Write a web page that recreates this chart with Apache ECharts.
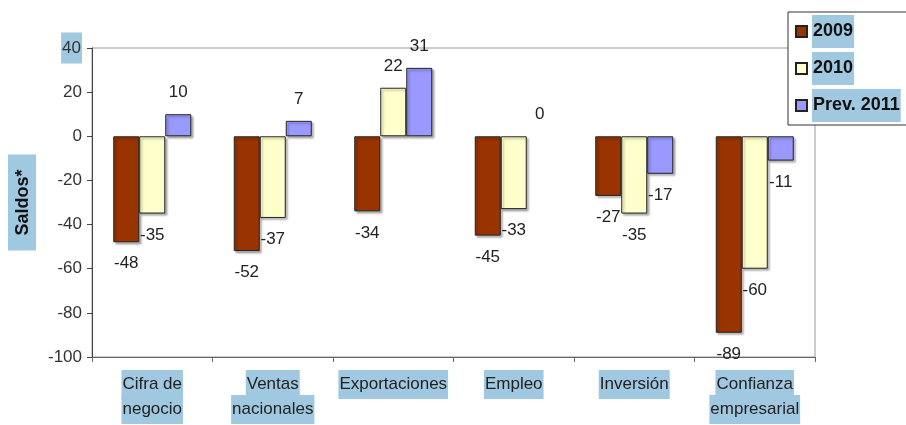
<!DOCTYPE html>
<html>
<head>
<meta charset="utf-8">
<script src="https://cdn.jsdelivr.net/npm/echarts@6/dist/echarts.min.js"></script>
<style>
  html, body { margin: 0; padding: 0; background: #fff; overflow: hidden; }
  #chart { width: 906px; height: 425px; }
</style>
</head>
<body>
<div id="chart"></div>
<script>
// Encuesta: saldos de respuestas por indicador
const categories = ['Cifra de\nnegocio', 'Ventas\nnacionales', 'Exportaciones', 'Empleo', 'Inversión', 'Confianza\nempresarial'];
const seriesNames = ['2009', '2010', 'Prev. 2011'];
const values2009 = [-48, -52, -34, -45, -27, -89];
const values2010 = [-35, -37, 22, -33, -35, -60];
const valuesPrev2011 = [10, 7, 31, 0, -17, -11];
const yTicks = { min: -100, max: 40, step: 20 };

const colors = ['#993300', '#FFFFCC', '#9999FF'];
const hl = '#a0c8e0';
const sans = "'Liberation Sans', Arial, sans-serif";

function barData(vals) {
  return vals.map(v => {
    const item = { value: v, label: { position: v < 0 ? 'bottom' : 'top' } };
    if (v === 0) item.itemStyle = { borderWidth: 0, shadowColor: 'transparent' };
    return item;
  });
}

function makeSeries(name, vals, color) {
  return {
    name: name,
    type: 'bar',
    xAxisIndex: 0,
    barWidth: 26,
    barGap: '0%',
    data: barData(vals),
    itemStyle: {
      color: color,
      borderColor: '#222',
      borderWidth: 1,
      shadowColor: 'rgba(0,0,0,0.3)',
      shadowOffsetX: 2,
      shadowOffsetY: 2,
      shadowBlur: 2
    },
    label: {
      show: true,
      distance: 13,
      fontFamily: sans,
      fontSize: 17,
      color: '#222'
    }
  };
}

const chart = echarts.init(document.getElementById('chart'), null, { renderer: 'canvas' });

chart.setOption({
  animation: false,
  backgroundColor: '#fff',
  grid: {
    left: 90, right: 91, top: 48, bottom: 68,
    show: true, borderColor: '#999', borderWidth: 1, backgroundColor: '#fff'
  },
  legend: {
    orient: 'vertical',
    left: 788, top: 12,
    padding: [3, 60, 3, 7],
    itemGap: 4,
    itemWidth: 11, itemHeight: 11,
    icon: 'rect',
    backgroundColor: '#fff',
    borderColor: '#333',
    borderWidth: 1,
    z: 10,
    data: seriesNames,
    textStyle: {
      fontFamily: sans,
      fontWeight: 'bold',
      fontSize: 18,
      color: '#111',
      backgroundColor: hl,
      lineHeight: 20,
      padding: [7, 1, 6, 1]
    }
  },
  xAxis: [
    {
      type: 'category',
      data: categories,
      position: 'bottom',
      axisLine: { show: false },
      axisTick: { show: false },
      axisLabel: {
        margin: 15,
        interval: 0,
        formatter: v => v.split('\n').map(s => '{c|' + s + '}').join('\n'),
        rich: {
          c: {
            fontFamily: sans,
            fontSize: 17,
            color: '#222',
            lineHeight: 25,
            backgroundColor: hl,
            padding: [6, 1, 6, 1]
          }
        }
      }
    },
    {
      type: 'category',
      data: categories,
      position: 'bottom',
      axisLine: { show: true, onZero: true, lineStyle: { color: '#666', width: 1 } },
      axisTick: { show: true, length: 5, lineStyle: { color: '#666' } },
      axisLabel: { show: false },
      splitLine: { show: false }
    }
  ],
  yAxis: {
    type: 'value',
    min: yTicks.min, max: yTicks.max, interval: yTicks.step,
    name: 'Saldos*',
    nameLocation: 'middle',
    nameRotate: 90,
    nameGap: 56,
    nameTextStyle: {
      fontFamily: sans,
      fontWeight: 'bold',
      fontSize: 18,
      color: '#111',
      backgroundColor: hl,
      padding: [6, 15, 4, 15]
    },
    axisLine: { show: true, lineStyle: { color: '#444', width: 1 } },
    axisTick: { show: true, length: 5, lineStyle: { color: '#444' } },
    splitLine: { show: false },
    axisLabel: {
      margin: 10,
      fontFamily: sans,
      fontSize: 17,
      color: '#333',
      formatter: v => v === yTicks.max ? '{h|' + v + '}' : String(v),
      rich: {
        h: { fontFamily: sans, fontSize: 17, color: '#333', backgroundColor: hl, padding: [7, 1] }
      }
    }
  },
  series: [
    makeSeries(seriesNames[0], values2009, colors[0]),
    makeSeries(seriesNames[1], values2010, colors[1]),
    makeSeries(seriesNames[2], valuesPrev2011, colors[2])
  ]
});
</script>
</body>
</html>
